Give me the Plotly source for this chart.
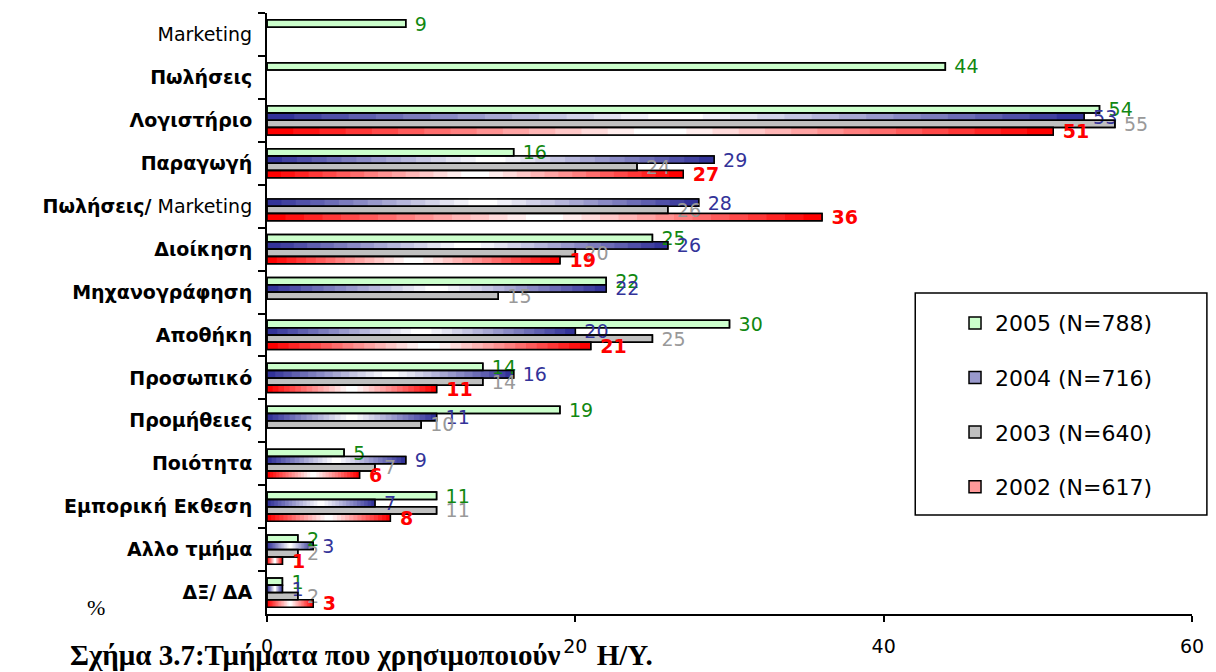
import plotly.graph_objects as go

# ---------------- data ----------------
CATEGORIES = ["Marketing", "Πωλήσεις", "Λογιστήριο", "Παραγωγή", "Πωλήσεις/ Marketing",
              "Διοίκηση", "Μηχανογράφηση", "Αποθήκη", "Προσωπικό", "Προμήθειες",
              "Ποιότητα", "Εμπορική Εκθεση", "Αλλο τμήμα", "ΔΞ/ ΔΑ"]
SERIES_NAMES = ["2005 (N=788)", "2004 (N=716)", "2003 (N=640)", "2002 (N=617)"]
V2005 = [9, 44, 54, 16, None, 25, 22, 30, 14, 19, 5, 11, 2, 1]
V2004 = [None, None, 53, 29, 28, 26, 22, 20, 16, 11, 9, 7, 3, 1]
V2003 = [None, None, 55, 24, 26, 20, 15, 25, 14, 10, 7, 11, 2, 2]
V2002 = [None, None, 51, 27, 36, 19, None, 21, 11, None, 6, 8, 1, 3]
X_TICKS = [0, 20, 40, 60]
CAPTION = "Σχήμα 3.7:Τμήματα που χρησιμοποιούν" + "\u00a0" * 5 + "H/Y."

# tick label markup (bold Greek words, regular Latin)
def tick_label(c):
    if c == "Marketing":
        return c
    if c == "Πωλήσεις/ Marketing":
        return "<b>Πωλήσεις/</b> Marketing"
    return "<b>" + c + "</b>"

Y_LABELS = [tick_label(c) for c in CATEGORIES]
SERIES = [V2005, V2004, V2003, V2002]

STYLES = [
    dict(fill="#ccffcc", grad=None, text="#118811", weight="normal"),
    dict(fill="#9999cc", grad=(51, 51, 153), text="#333399", weight="normal"),
    dict(fill="#c0c0c0", grad=None, text="#999999", weight="normal"),
    dict(fill="#ff9999", grad=(255, 0, 0), text="#ff0000", weight="bold"),
]

BAR_W = 0.17
OFFSETS = [-0.34 + i * BAR_W for i in range(4)]
N_STEPS = 14

fig = go.Figure()

# 1) filled bars that carry the legend entries
for name, vals, st, off in zip(SERIES_NAMES, SERIES, STYLES, OFFSETS):
    fig.add_trace(go.Bar(
        orientation="h", y=Y_LABELS, x=vals, name=name,
        width=BAR_W, offset=off, legendgroup=name,
        marker=dict(color=st["fill"], line=dict(color="black", width=1.5)),
        hoverinfo="skip",
    ))

# 2) gradient fills (dark at both ends, white in the middle)
def mix(rgb, t):
    return "rgb(%d,%d,%d)" % tuple(round(c + (255 - c) * t) for c in rgb)

for vals, st, off in zip(SERIES, STYLES, OFFSETS):
    if st["grad"] is None:
        continue
    for k in range(N_STEPS + 1):
        a = k / (2 * (N_STEPS + 1))
        base = [None if v is None else v * a for v in vals]
        length = [None if v is None else v * (1 - 2 * a) for v in vals]
        fig.add_trace(go.Bar(
            orientation="h", y=Y_LABELS, x=length, base=base,
            width=BAR_W, offset=off, showlegend=False,
            marker=dict(color=mix(st["grad"], k / N_STEPS), line=dict(width=0)),
            hoverinfo="skip",
        ))

# 3) outlines + value labels on top
for vals, st, off in zip(SERIES, STYLES, OFFSETS):
    fig.add_trace(go.Bar(
        orientation="h", y=Y_LABELS, x=vals,
        width=BAR_W, offset=off, showlegend=False,
        marker=dict(color="rgba(0,0,0,0)", line=dict(color="black", width=1.5)),
        texttemplate="\u00a0%{x}", textposition="outside",
        constraintext="none", cliponaxis=False,
        textfont=dict(family="DejaVu Sans", size=19, color=st["text"], weight=st["weight"]),
        hoverinfo="skip",
    ))

fig.update_layout(
    width=1216, height=672,
    margin=dict(l=267, r=20, t=13, b=58),
    plot_bgcolor="white", paper_bgcolor="white",
    barmode="overlay",
    font=dict(family="DejaVu Sans", color="black"),
    xaxis=dict(
        range=[0, 60], tickmode="array", tickvals=X_TICKS,
        ticks="outside", ticklen=6, tickwidth=1.5, tickcolor="black",
        showline=True, linecolor="black", linewidth=2,
        showgrid=False, zeroline=False,
        tickfont=dict(family="DejaVu Sans", size=19, color="black"),
        ticklabelstandoff=8,
    ),
    yaxis=dict(
        type="category", autorange="reversed",
        ticks="outside", ticklen=7, tickwidth=1.5, tickcolor="black",
        tickson="boundaries",
        showline=True, linecolor="black", linewidth=2,
        showgrid=False, zeroline=False,
        tickfont=dict(family="DejaVu Sans", size=19, color="black"),
        ticklabelstandoff=9,
    ),
    legend=dict(
        x=0.7438, y=0.519, xanchor="left", yanchor="top",
        bgcolor="rgba(0,0,0,0)", borderwidth=0,
        font=dict(family="DejaVu Sans", size=22, color="black"),
        tracegroupgap=23,
    ),
    shapes=[dict(
        type="rect", xref="paper", yref="paper",
        x0=0.7008, x1=1.0161, y0=0.1647, y1=0.5341,
        line=dict(color="black", width=1.5), fillcolor="rgba(0,0,0,0)",
    )],
    annotations=[
        dict(text="<b>" + CAPTION + "</b>", xref="paper", yref="paper",
             x=-0.214, y=-0.0965, xanchor="left", yanchor="bottom", showarrow=False,
             borderpad=0,
             font=dict(family="Liberation Serif", size=29, color="black")),
        dict(text="%", xref="paper", yref="paper",
             x=-0.185, y=0.0116, xanchor="center", yanchor="middle", showarrow=False,
             font=dict(family="Liberation Serif", size=22, color="black")),
    ],
)

fig.write_html(
    "out.html",
    config={"displayModeBar": False},
    post_script="document.body.style.margin='0';document.body.style.overflow='hidden';",
)
